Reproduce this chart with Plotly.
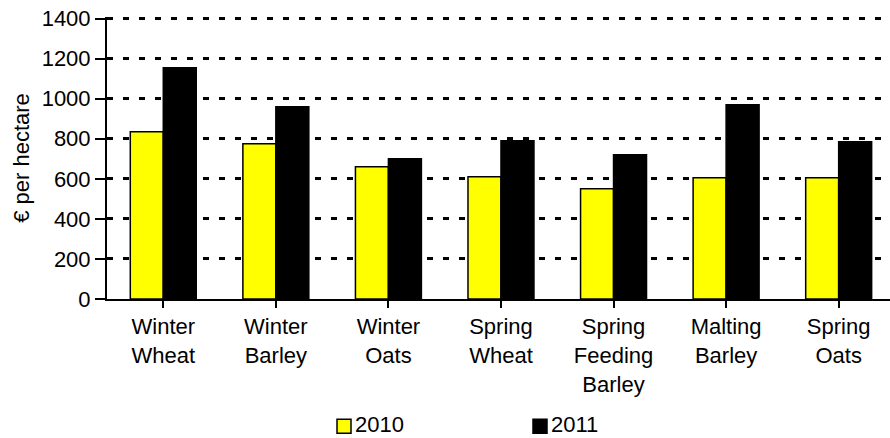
import plotly.graph_objects as go

# Crop costs per hectare, 2010 vs 2011
crops = ["Winter<br>Wheat", "Winter<br>Barley", "Winter<br>Oats", "Spring<br>Wheat",
         "Spring<br>Feeding<br>Barley", "Malting<br>Barley", "Spring<br>Oats"]
values_2010 = [835, 775, 660, 610, 550, 605, 605]
values_2011 = [1155, 960, 700, 790, 720, 970, 785]
series_names = ["2010", "2011"]
series_colors = ["#FFFF00", "#000000"]
y_ticks = [0, 200, 400, 600, 800, 1000, 1200, 1400]
y_max = 1408  # slightly above the last tick so its gridline is kept

FONT = "Liberation Sans, Arial, sans-serif"
FS = 22
W, H = 890, 438
L, R, B = 107, 0, 139
T = 19 - (y_max - 1400) / 1400 * 280

fig = go.Figure()
for name, vals, col in zip(series_names, [values_2010, values_2011], series_colors):
    fig.add_trace(go.Bar(
        x=list(range(len(crops))), y=vals, name=name,
        marker=dict(color=col, line=dict(color="#000000", width=1.5)),
        showlegend=False,
    ))

# Hand-built legend: box glyph directly beside the label
plot_w = W - L - R
plot_h = H - T - B
def px_x(p):
    return (p - L) / plot_w
def px_y(p):
    return (H - B - p) / plot_h

legend_x = [337, 533]
for name, col, lx in zip(series_names, series_colors, legend_x):
    fig.add_shape(type="rect", xref="paper", yref="paper",
                  x0=px_x(lx), x1=px_x(lx + 14), y0=px_y(433), y1=px_y(419),
                  fillcolor=col, line=dict(color="#000000", width=1.5))
    fig.add_annotation(xref="paper", yref="paper", x=px_x(lx + 17), y=px_y(H),
                       text=name, showarrow=False, xanchor="left", yanchor="bottom",
                       borderpad=0,
                       font=dict(family=FONT, size=FS, color="#000000"))

fig.update_layout(
    width=W, height=H,
    margin=dict(l=L, r=R, t=T, b=B, pad=0),
    paper_bgcolor="white", plot_bgcolor="white",
    barmode="group", bargap=0.414, bargroupgap=0,
    font=dict(family=FONT, size=FS, color="#000000"),
    xaxis=dict(
        range=[-0.5, 6.456],
        tickmode="array", tickvals=list(range(len(crops))), ticktext=crops,
        tickson="boundaries", ticks="outside", ticklen=7, tickwidth=1.5, tickcolor="#000000",
        showline=True, linecolor="#000000", linewidth=2,
        showgrid=False, zeroline=False,
        tickfont=dict(family=FONT, size=FS),
    ),
    yaxis=dict(
        range=[0, y_max], tickmode="array", tickvals=y_ticks,
        ticks="outside", ticklen=10, tickwidth=1.5, tickcolor="#000000",
        showline=True, linecolor="#000000", linewidth=2,
        showgrid=True, gridcolor="#000000", gridwidth=2.5, griddash="6px,10px",
        zeroline=False,
        tickfont=dict(family=FONT, size=FS),
        title=dict(text="€ per hectare", font=dict(family=FONT, size=FS), standoff=6),
    ),
)

fig.write_html("out.html")
